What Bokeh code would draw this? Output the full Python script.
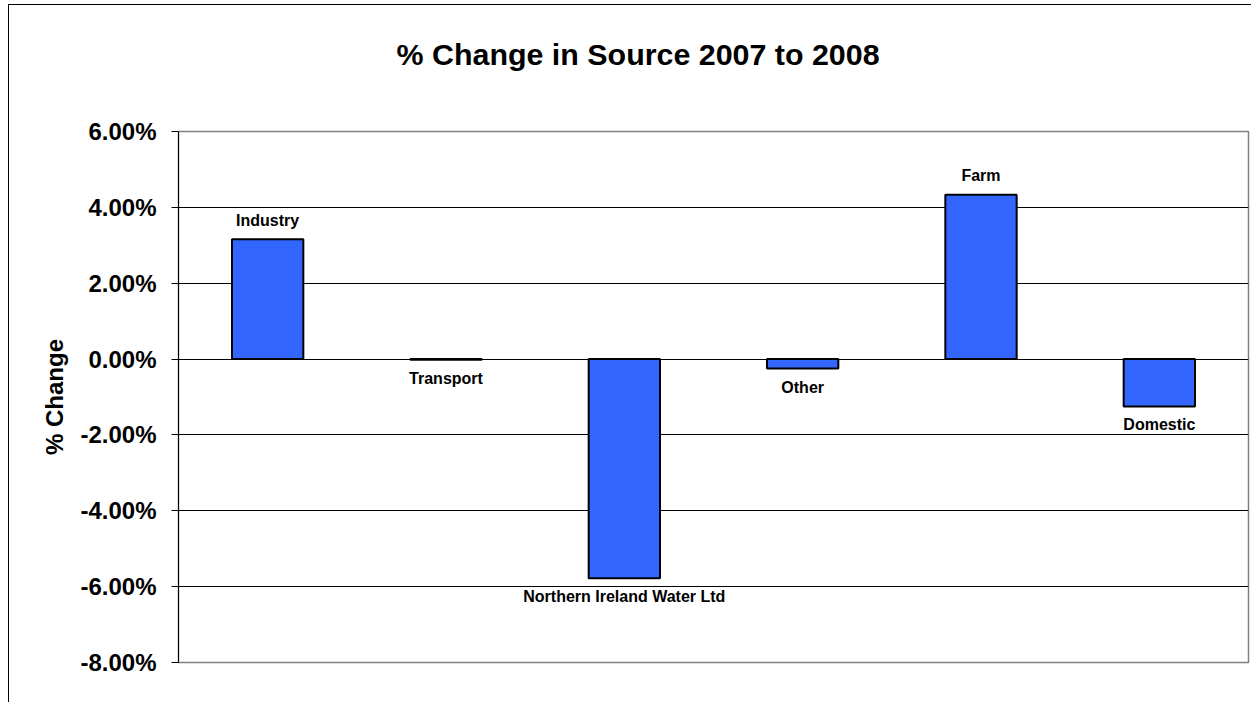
from bokeh.plotting import figure
from bokeh.models import (ColumnDataSource, Range1d, FixedTicker, NumeralTickFormatter, Title)
from bokeh.core.properties import value
from bokeh.embed import file_html
from bokeh.resources import INLINE

# ---- data ----
categories = ["Industry", "Transport", "Northern Ireland Water Ltd", "Other", "Farm", "Domestic"]
pct_change = [0.0316, -0.0002, -0.0578, -0.0025, 0.0433, -0.0125]
y_ticks = [-0.08, -0.06, -0.04, -0.02, 0.0, 0.02, 0.04, 0.06]
grid_ticks = [-0.06, -0.04, -0.02, 0.0, 0.02, 0.04]
title_text = "% Change in Source 2007 to 2008"
y_label = "% Change"

FONT = "Liberation Sans"

p = figure(width=1243, height=698, x_range=categories, y_range=Range1d(y_ticks[0], y_ticks[-1]),
           output_backend="svg", toolbar_location=None,
           min_border_left=169, min_border_right=4, min_border_top=126, min_border_bottom=41)
p.styles = {"border-left": "1px solid black", "border-top": "1px solid black",
            "margin-left": "8px", "margin-top": "4px"}
p.background_fill_color = "white"
p.border_fill_color = "white"
p.outline_line_color = "#808080"
p.outline_line_width = 1.5

src = ColumnDataSource(dict(cat=categories, val=pct_change))
p.vbar(x="cat", top="val", bottom=0, width=0.4, source=src,
       fill_color="#3366FF", line_color="black", line_width=2)

# data labels
pos = ColumnDataSource(dict(cat=[c for c, v in zip(categories, pct_change) if v >= 0],
                            val=[v for v in pct_change if v >= 0]))
neg = ColumnDataSource(dict(cat=[c for c, v in zip(categories, pct_change) if v < 0],
                            val=[v for v in pct_change if v < 0]))
p.text(x="cat", y="val", text="cat", source=pos, text_align="center", text_baseline="alphabetic",
       y_offset=-19, text_font=value(FONT), text_font_style="bold", text_font_size="16px", text_color="black")
p.text(x="cat", y="val", text="cat", source=neg, text_align="center", text_baseline="top",
       y_offset=10, text_font=value(FONT), text_font_style="bold", text_font_size="16px", text_color="black")

# axes
p.xaxis.visible = False
p.xgrid.visible = False
p.ygrid.ticker = FixedTicker(ticks=grid_ticks)
p.ygrid.grid_line_color = "black"
p.ygrid.grid_line_width = 1

ya = p.yaxis[0]
ya.ticker = FixedTicker(ticks=y_ticks)
ya.formatter = NumeralTickFormatter(format="0.00%")
ya.major_label_text_font = FONT
ya.major_label_text_font_style = "bold"
ya.major_label_text_font_size = "24px"
ya.major_label_text_color = "black"
ya.major_tick_in = 0
ya.major_tick_out = 7
ya.minor_tick_line_color = None
ya.major_tick_line_color = "black"
ya.axis_line_color = "black"
ya.major_label_standoff = 15
ya.axis_label = y_label
ya.axis_label_text_font = FONT
ya.axis_label_text_font_style = "bold"
ya.axis_label_text_font_size = "24px"
ya.axis_label_text_color = "black"
ya.axis_label_standoff = 9

# spacer between frame and title, then the title itself (outermost)
p.add_layout(Title(text=" ", text_font_size="1px", standoff=58), "above")
p.add_layout(Title(text=title_text, align="left", offset=218, standoff=0, vertical_align="bottom",
                   text_font=FONT, text_font_style="bold", text_font_size="30.4px",
                   text_color="black"), "above")

open("out.html", "w").write(file_html(p, INLINE))
